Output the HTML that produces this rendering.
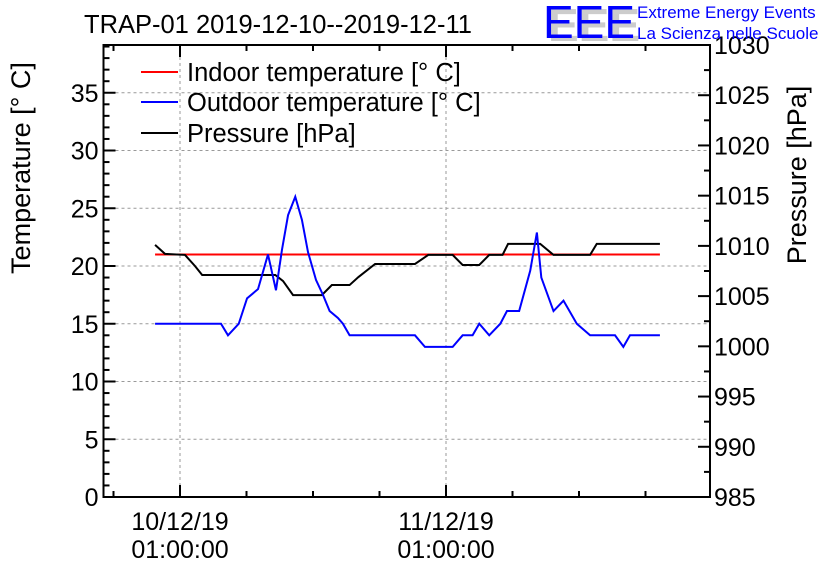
<!DOCTYPE html>
<html><head><meta charset="utf-8"><style>
body{margin:0;background:#fff;}
svg text{font-family:"Liberation Sans",Arial,sans-serif;}
</style></head><body>
<svg id="c" width="836" height="572">
<g id="g"></g>
</svg>
<script>
const indoorHours=[-2.25,43.3];
const indoorTemps=[21,21];
const outHours=[-2.25,3.7,4.33,5.3,6.05,7.04,7.94,8.66,9.2,9.75,10.4,11,11.55,12.27,12.9,13.5,14.25,14.7,15.3,21.2,22.1,24.6,25.5,26.4,27,27.9,28.9,29.5,30.6,31.6,32.2,32.6,33.7,34.6,35.8,37,39.25,40,40.6,43.3];
const outTemps=[15,15,14,15,17.2,18,21,17.9,21.4,24.4,26,24,21.2,18.8,17.5,16.1,15.5,15,14,14,13,13,14,14,15,14,15,16.1,16.1,19.6,22.9,19,16.1,17,15,14,14,13,14,14];
const presHours=[-2.25,-1.35,0.45,1.35,2,8.6,9.3,10.2,12.8,13.7,15.3,16.1,17.6,21.2,22.4,24.6,25.5,27,27.9,29.1,29.6,32.5,33.7,37,37.6,43.3];
const presVals=[1010.1,1009.2,1009.1,1008,1007.1,1007.1,1006.5,1005.1,1005.1,1006.1,1006.1,1006.9,1008.2,1008.2,1009.1,1009.1,1008.1,1008.1,1009.1,1009.1,1010.2,1010.2,1009.1,1009.1,1010.2,1010.2];
const tTicks=[0,5,10,15,20,25,30,35];
const pTicks=[985,990,995,1000,1005,1010,1015,1020,1025,1030];
const xMajor=[0,24];
const xMajorL1=["10/12/19","11/12/19"];
const xMajorL2=["01:00:00","01:00:00"];

const L=103.5,R=710,T=45,B=497;
const X=h=>180+h*(266/24);
const Y=t=>B-t*11.55;
const YP=p=>B-(p-985)*(B-T)/45;
const g=document.getElementById('g');
const NS='http://www.w3.org/2000/svg';
function mk(tag,a,txt){const e=document.createElementNS(NS,tag);for(const k in a)e.setAttribute(k,a[k]);if(txt!=null)e.textContent=txt;g.appendChild(e);return e;}

tTicks.forEach(t=>{if(t>0){const e=mk('line',{x1:L,x2:R,y1:Y(t),y2:Y(t),stroke:'#999','stroke-dasharray':'3,3'});

}});
xMajor.forEach(h=>{const e=mk('line',{x1:X(h),x2:X(h),y1:T,y2:B,stroke:'#999','stroke-dasharray':'3,3'});

});

const fr=mk('rect',{x:L,y:T,width:R-L,height:B-T,fill:'none',stroke:'#000','stroke-width':2});



for(let t=0;t<=39;t++){const len=t%5==0?12:6;mk('line',{x1:L,x2:L+len,y1:Y(t),y2:Y(t),stroke:'#000','stroke-width':2});}
tTicks.forEach(t=>{const e=mk('text',{x:L-5,y:Y(t)+9,'font-size':25,'text-anchor':'end'},String(t));

});
for(let p=985;p<=1030;p+=2.5){const len=p%5==0?12:6;mk('line',{x1:R-len,x2:R,y1:YP(p),y2:YP(p),stroke:'#000','stroke-width':2});}
pTicks.forEach(p=>{const e=mk('text',{x:R+4,y:YP(p)+9,'font-size':25},String(p));

});
for(let h=-6;h<=42;h+=6){const x=X(h);if(x<L||x>R)continue;const len=(h%24==0)?12:6;
mk('line',{x1:x,x2:x,y1:B-len,y2:B,stroke:'#000','stroke-width':2});
mk('line',{x1:x,x2:x,y1:T,y2:T+len,stroke:'#000','stroke-width':2});}
xMajor.forEach((h,i)=>{const a=mk('text',{x:X(h),y:530,'font-size':25,'text-anchor':'middle'},xMajorL1[i]);


const b=mk('text',{x:X(h),y:558,'font-size':25,'text-anchor':'middle'},xMajorL2[i]);

});

function line(hs,vs,fy,col,name){const pts=hs.map((h,i)=>X(h)+','+fy(vs[i])).join(' ');
const e=mk('polyline',{points:pts,fill:'none',stroke:col,'stroke-width':2});

}
line(indoorHours,indoorTemps,Y,'#f00','indoor-temperature-line');
line(presHours,presVals,YP,'#000','pressure-line');
line(outHours,outTemps,Y,'#00f','outdoor-temperature-line');

const leg=[['Indoor temperature [° C]','#f00',72],['Outdoor temperature [° C]','#00f',102],['Pressure [hPa]','#000',133]];
leg.forEach(l=>{mk('line',{x1:141,x2:178,y1:l[2],y2:l[2],stroke:l[1],'stroke-width':2});
const e=mk('text',{x:187,y:l[2]+9,'font-size':25.5},l[0]);

});

let e=mk('text',{x:84,y:33,'font-size':25.5},'TRAP-01 2019-12-10--2019-12-11');


e=mk('text',{x:0,y:0,'font-size':27,'text-anchor':'middle',transform:'translate(30,168) rotate(-90)'},'Temperature [° C]');


e=mk('text',{x:0,y:0,'font-size':27,'text-anchor':'middle',transform:'translate(806,175) rotate(-90)'},'Pressure [hPa]');


mk('text',{x:548,y:41,'font-size':46,fill:'#ccc','font-weight':'bold'},'EEE');
e=mk('text',{x:543,y:38,'font-size':46,fill:'#00f'},'EEE');


e=mk('text',{x:637,y:18,'font-size':17,fill:'#00f'},'Extreme Energy Events');


e=mk('text',{x:637,y:39,'font-size':17,fill:'#00f'},'La Scienza nelle Scuole');


</script>
</body></html>
